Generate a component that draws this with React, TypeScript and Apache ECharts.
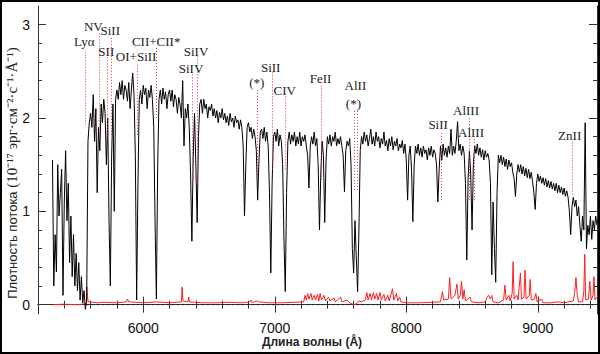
import React, { useEffect, useRef } from 'react';
import * as echarts from 'echarts';

// Spectrum sampling grid (Å)
const waveStart = 5310;
const waveStep = 10;
const flux = [
  1.55, 0.2, 0.75, 0.35, 1.5, 0.95, 1.2, 1.45, 0.1, 1.1,
  1.65, 0.9, 1.3, 0.45, 0.95, 0.3, 0.75, 0.2, 0.55, 0.15,
  0.45, 0.05, 0.3, 0.02, 0.15, -0.05, 0.05, 1.75, 1.95, 2.05,
  1.9, 2.25, 1.75, 2.1, 1.2, 1.9, 1.65, 2.15, 1.95, 2.2,
  2.05, 1.5, 2.0, 0.9, 0.2, 1.6, 2.15, 1.0, 2.2, 2.3,
  2.2, 2.38, 2.25, 2.4, 2.2, 2.35, 2.3, 2.18, 2.38, 2.1,
  2.3, 2.48, 2.25, 1.6, 0.05, 1.3, 2.2, 2.3, 2.15, 2.35,
  2.25, 2.32, 2.1, 2.3, 2.22, 2.35, 2.2, 1.9, 0.9, 0.06,
  1.5, 2.2, 2.3, 2.15, 2.32, 2.2, 2.28, 2.1, 2.25, 2.3,
  2.18, 2.3, 2.12, 2.25, 2.2, 2.05, 2.22, 2.15, 2.0, 2.4,
  1.7, 2.1, 2.0, 2.15, 1.9, 1.4, 0.68, 1.6, 2.05, 1.5,
  0.88, 1.8, 2.15, 2.2, 2.05, 2.2, 2.1, 2.15, 2.0, 2.12,
  2.08, 2.15, 2.02, 2.1, 2.0, 2.08, 1.95, 2.06, 2.0, 2.1,
  1.98, 2.05, 1.95, 2.02, 1.92, 2.05, 1.96, 2.0, 1.9, 2.02,
  1.95, 1.98, 1.88, 1.98, 1.9, 1.7, 0.95, 1.5, 1.9, 1.95,
  1.85, 1.9, 1.78, 1.88, 1.8, 1.65, 1.12, 1.55, 1.85, 1.88,
  1.78, 1.9, 1.75, 1.85, 1.7, 1.2, 0.34, 1.3, 1.8, 1.85,
  1.75, 1.88, 1.7, 1.82, 1.75, 1.5, 0.7, 0.14, 1.2, 1.75,
  1.85, 1.72, 1.82, 1.75, 1.85, 1.7, 1.8, 1.72, 1.85, 1.7,
  1.8, 1.75, 1.82, 1.7, 1.6, 1.25, 1.7, 1.8, 1.72, 1.85,
  1.7, 1.78, 1.5, 0.8, 1.4, 1.75, 1.6, 0.88, 1.55, 1.8,
  1.72, 1.82, 1.7, 1.8, 1.75, 1.85, 1.7, 1.78, 1.72, 1.8,
  1.7, 1.6, 1.21, 1.65, 1.75, 1.7, 1.78, 1.5, 0.6, 0.34,
  0.9, 0.5, 0.14, 0.8, 1.65, 1.8, 1.72, 1.85, 1.75, 1.82,
  1.7, 1.78, 1.88, 1.72, 1.8, 1.7, 1.85, 1.75, 1.8, 1.68,
  1.78, 1.72, 1.85, 1.7, 1.76, 1.65, 1.78, 1.7, 1.8, 1.66,
  1.75, 1.7, 1.78, 1.65, 1.72, 1.68, 1.76, 1.62, 1.72, 1.55,
  1.12, 1.6, 1.7, 1.45, 0.89, 1.5, 1.7, 1.62, 1.72, 1.6,
  1.68, 1.58, 1.7, 1.62, 1.66, 1.55, 1.68, 1.6, 1.7, 1.58,
  1.66, 1.62, 1.5, 1.1, 1.45, 1.7, 1.55, 1.72, 1.6, 1.68,
  1.58, 1.7, 1.62, 1.88, 1.6, 1.7, 1.62, 1.75, 1.96, 1.65,
  1.72, 1.6, 1.7, 1.62, 1.3, 0.48, 1.35, 1.65, 1.4, 0.8,
  1.5, 1.7, 1.62, 1.72, 1.6, 1.68, 1.58, 1.66, 1.55, 1.65,
  1.58, 1.62, 1.55, 1.3, 0.32, 1.1, 0.6, 0.24, 1.2, 1.6,
  1.52, 1.6, 1.5, 1.58, 1.48, 1.56, 1.45, 1.55, 1.48, 1.52,
  1.42, 1.35, 1.16, 1.4, 1.5, 1.42, 1.5, 1.4, 1.48, 1.38,
  1.46, 1.36, 1.45, 1.35, 1.42, 1.32, 1.2, 1.02, 1.3, 1.4,
  1.32, 1.38, 1.3, 1.36, 1.28, 1.35, 1.26, 1.33, 1.25, 1.32,
  1.24, 1.3, 1.22, 1.3, 1.2, 1.28, 1.2, 1.26, 1.18, 1.25,
  1.16, 1.22, 1.15, 1.0, 0.75, 1.05, 1.15, 1.05, 1.12, 0.95,
  1.05, 0.85, 0.68, 0.95, 0.8, 1.95, 0.6, 0.85, 0.75, 0.95,
  0.7, 0.9, 0.8, 0.95, 0.85,
];

// Error spectrum [wavelength, value]
const errorSpectrum: [number, number][] = [
  [5310, 0.0], [5400, 0.005], [5500, 0.0], [5560, 0.01], [5568, 0.02], [5572, 0.19], [5576, 0.08], [5582, 0.03],
  [5650, 0.02], [5700, 0.025], [5800, 0.02], [5870, 0.03], [5880, 0.06], [5890, 0.03], [6000, 0.02], [6100, 0.03],
  [6200, 0.02], [6290, 0.03], [6296, 0.19], [6302, 0.04], [6340, 0.03], [6346, 0.08], [6352, 0.03], [6450, 0.02],
  [6550, 0.02], [6650, 0.025], [6750, 0.02], [6810, 0.03], [6820, 0.05], [6830, 0.02], [6860, 0.04], [6880, 0.03],
  [6950, 0.02], [7050, 0.02], [7150, 0.025], [7220, 0.03], [7230, 0.1], [7240, 0.05], [7250, 0.12], [7260, 0.06],
  [7275, 0.12], [7285, 0.05], [7300, 0.1], [7310, 0.05], [7325, 0.11], [7335, 0.04], [7345, 0.12], [7355, 0.05],
  [7375, 0.1], [7385, 0.04], [7410, 0.08], [7420, 0.04], [7450, 0.07], [7460, 0.03], [7500, 0.08], [7510, 0.03],
  [7550, 0.05], [7570, 0.02], [7600, 0.0], [7620, 0.01], [7640, 0.04], [7660, 0.03], [7690, 0.05], [7700, 0.13],
  [7710, 0.05], [7725, 0.12], [7735, 0.05], [7750, 0.13], [7760, 0.06], [7775, 0.12], [7785, 0.05], [7800, 0.13],
  [7810, 0.05], [7830, 0.11], [7840, 0.04], [7860, 0.1], [7870, 0.04], [7895, 0.17], [7905, 0.05], [7925, 0.12],
  [7935, 0.04], [7950, 0.08], [7960, 0.03], [8000, 0.02], [8100, 0.02], [8200, 0.025], [8260, 0.03], [8275, 0.14],
  [8285, 0.05], [8320, 0.06], [8330, 0.29], [8340, 0.06], [8370, 0.1], [8385, 0.22], [8395, 0.06], [8410, 0.1],
  [8420, 0.25], [8430, 0.06], [8440, 0.16], [8450, 0.04], [8485, 0.08], [8495, 0.03], [8550, 0.02], [8600, 0.03],
  [8615, 0.08], [8625, 0.1], [8640, 0.06], [8650, 0.1], [8660, 0.03], [8700, 0.02], [8740, 0.05], [8750, 0.21],
  [8760, 0.05], [8780, 0.1], [8790, 0.04], [8805, 0.12], [8812, 0.46], [8820, 0.06], [8840, 0.1], [8850, 0.05],
  [8868, 0.34], [8876, 0.06], [8895, 0.08], [8903, 0.37], [8911, 0.06], [8935, 0.1], [8942, 0.27], [8950, 0.05],
  [8975, 0.06], [8985, 0.12], [8995, 0.03], [9030, 0.06], [9040, 0.02], [9100, 0.02], [9150, 0.03], [9200, 0.02],
  [9270, 0.04], [9282, 0.15], [9290, 0.29], [9300, 0.1], [9310, 0.03], [9340, 0.03], [9350, 0.15], [9357, 0.54],
  [9364, 0.05], [9385, 0.06], [9395, 0.25], [9405, 0.05], [9420, 0.1], [9427, 0.3], [9435, 0.05], [9450, 0.08],
];

// Zero level (dashed)
const zeroLine: [number, number][] = [[5305, 0], [9450, 0]];

// Identified line markers (dotted red)
const markerWaves = [5556, 5667, 5728, 5760, 5952, 6099, 6370, 6411, 6867, 6980, 7079, 7352, 7602, 7630, 8263, 8476, 8513, 9259];
const markerTops = [2.71, 2.92, 2.66, 2.87, 2.59, 2.77, 2.47, 2.66, 2.3, 2.49, 2.25, 2.36, 2.09, 2.09, 1.85, 2.02, 1.79, 1.75];
const markerBottoms = [1.93, 1.77, 1.77, 1.82, 1.82, 2.0, 1.3, 1.3, 1.39, 1.45, 1.45, 1.34, 1.23, 1.23, 1.12, 1.12, 1.12, 1.18];

// Line identification labels
const labelTexts = ['Lyα', 'NV', 'SiII', 'SII', 'OI+SiII', 'CII+CII*', 'SiIV', 'SiIV', '(*)', 'SiII', 'CIV', 'FeII', 'AlII', '(*)', 'SiII', 'AlIII', 'AlIII', 'ZnII'];
const labelWaves = [5556, 5624, 5753, 5723, 5950, 6102, 6405, 6367, 6867, 6973, 7079, 7352, 7617, 7602, 8246, 8458, 8496, 9246];
const labelLevels = [2.81, 2.97, 2.93, 2.71, 2.65, 2.81, 2.71, 2.52, 2.38, 2.54, 2.29, 2.42, 2.34, 2.15, 1.92, 2.07, 1.84, 1.81];

// Axes
const xRange = [5200, 9450];
const yRange = [-0.1, 3.2];
const xMajorTicks = [6000, 7000, 8000, 9000];
const xMinorTicks = [5400, 5600, 5800, 6200, 6400, 6600, 6800, 7200, 7400, 7600, 7800, 8200, 8400, 8600, 8800, 9200, 9400];
const yMajorTicks = [0, 1, 2, 3];
const yMinorTicks = [0.2, 0.4, 0.6, 0.8, 1.2, 1.4, 1.6, 1.8, 2.2, 2.4, 2.6, 2.8];

const axisColor = '#333';
const tickFont = { fontFamily: 'Liberation Sans', fontSize: 14, color: '#111' };

function xAxisDef(position: 'bottom' | 'top', major: boolean) {
  return {
    type: 'value',
    position,
    min: xRange[0],
    max: xRange[1],
    axisLine: { show: !major, lineStyle: { color: axisColor, width: 1 } },
    axisTick: {
      show: true,
      inside: true,
      length: major ? 8 : 4,
      customValues: major ? xMajorTicks : xMinorTicks,
      lineStyle: { color: axisColor, width: 1 },
    },
    axisLabel: position === 'bottom' && major
      ? { show: true, customValues: xMajorTicks, margin: 7, formatter: (v: number) => String(v), ...tickFont }
      : { show: false },
    splitLine: { show: false },
  };
}

function yAxisDef(position: 'left' | 'right', major: boolean) {
  return {
    type: 'value',
    position,
    min: yRange[0],
    max: yRange[1],
    axisLine: { show: !major, lineStyle: { color: axisColor, width: 1 } },
    axisTick: {
      show: true,
      inside: true,
      length: major ? 8 : 4,
      customValues: major ? yMajorTicks : yMinorTicks,
      lineStyle: { color: axisColor, width: 1 },
    },
    axisLabel: position === 'left' && major
      ? { show: true, customValues: yMajorTicks, margin: 8, formatter: (v: number) => String(v), ...tickFont }
      : { show: false },
    splitLine: { show: false },
  };
}

export default function App() {
  const ref = useRef<HTMLDivElement>(null);

  useEffect(() => {
    if (!ref.current) return;
    const chart = echarts.init(ref.current, undefined, { renderer: 'svg' });

    const spectrum = flux.map((v, i) => [waveStart + i * waveStep, v]);
    const markerData = markerWaves.map((w, i) => [
      { coord: [w, markerBottoms[i]] },
      { coord: [w, markerTops[i]] },
    ]);
    const labelData = labelTexts.map((t, i) => ({ name: t, value: [labelWaves[i], labelLevels[i]] }));

    chart.setOption({
      animation: false,
      backgroundColor: '#fff',
      grid: { left: 38, right: 3, top: 6, bottom: 40, containLabel: false },
      xAxis: [xAxisDef('bottom', false), xAxisDef('bottom', true), xAxisDef('top', false), xAxisDef('top', true)],
      yAxis: [yAxisDef('left', false), yAxisDef('left', true), yAxisDef('right', false), yAxisDef('right', true)],
      series: [
        {
          name: 'zero',
          type: 'line',
          data: zeroLine,
          symbol: 'none',
          lineStyle: { color: '#222', width: 1, type: [2, 3] },
          z: 1,
          silent: true,
          markLine: {
            silent: true,
            symbol: ['none', 'none'],
            label: { show: false },
            lineStyle: { color: '#e0323a', width: 1, type: [1, 2] },
            data: markerData,
            z: 10,
          },
        },
        {
          name: 'error',
          type: 'line',
          data: errorSpectrum,
          symbol: 'none',
          lineStyle: { color: '#ff1f1f', width: 1 },
          z: 2,
          silent: true,
        },
        {
          name: 'flux',
          type: 'line',
          data: spectrum,
          symbol: 'none',
          lineStyle: { color: '#000', width: 1 },
          z: 3,
          silent: true,
        },
        {
          name: 'labels',
          type: 'scatter',
          data: labelData,
          symbolSize: 1,
          itemStyle: { color: '#222', opacity: 0 },
          label: {
            show: true,
            position: [0, 0],
            align: 'center',
            verticalAlign: 'middle',
            formatter: '{b}',
            fontFamily: 'Liberation Serif',
            fontSize: 13,
            color: '#222',
            opacity: 1,
          },
          z: 12,
          silent: true,
        },
      ],
      graphic: [
        {
          type: 'text',
          x: 12,
          y: 173,
          rotation: Math.PI / 2,
          style: {
            text: '{a|Плотность потока }{b|(10⁻¹⁷ эрг·см⁻²·с⁻¹·Å⁻¹)}',
            align: 'center',
            verticalAlign: 'middle',
            rich: {
              a: { fontFamily: 'Liberation Sans', fontSize: 13, fill: '#222' },
              b: { fontFamily: 'Liberation Serif', fontSize: 15, fill: '#222' },
            },
          },
        },
        {
          type: 'text',
          x: 312,
          y: 342,
          style: {
            text: 'Длина волны (Å)',
            align: 'center',
            verticalAlign: 'middle',
            fontFamily: 'Liberation Sans',
            fontSize: 12,
            fontWeight: 'bold',
            fill: '#222',
          },
        },
      ],
    });

    return () => chart.dispose();
  }, []);

  return (
    <div style={{ position: 'fixed', left: 0, top: 0, width: 600, height: 354, background: '#fff' }}>
      <div ref={ref} style={{ width: 600, height: 354 }} />
      <div
        style={{
          position: 'absolute', left: 0, top: 0, width: 600, height: 354,
          boxSizing: 'border-box', border: '2px solid #000', pointerEvents: 'none',
        }}
      />
    </div>
  );
}
